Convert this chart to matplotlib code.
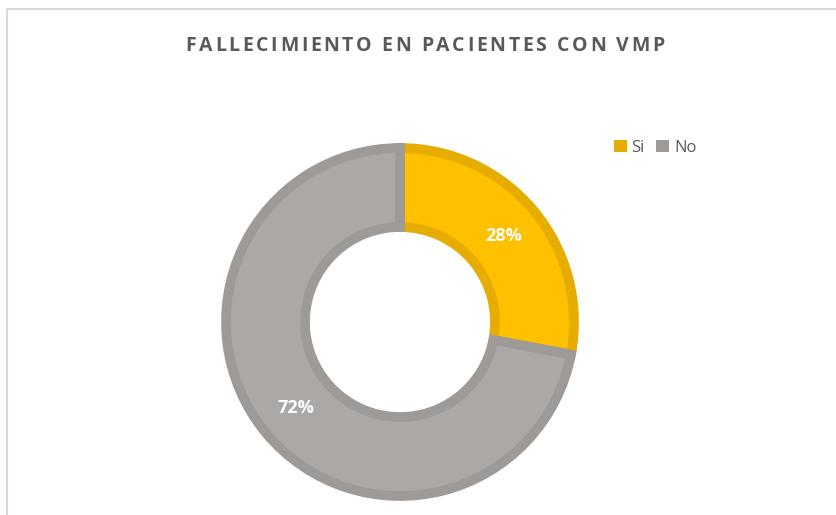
import matplotlib.pyplot as plt
from matplotlib.patches import Patch
import numpy as np

# chart data
labels = ["Si", "No"]
values = [28, 72]
title = "FALLECIMIENTO EN PACIENTES CON VMP"

fill_colors = ["#FFC000", "#ABA8A6"]
edge_colors = ["#E6AD00", "#9D9A98"]

W, H = 837, 515
fig = plt.figure(figsize=(W / 100, H / 100), dpi=100)
ax = fig.add_axes([0, 0, 1, 1])
ax.axis("off")

# chart frame (light gray border of the embedded chart)
ax.plot([7.5, W + 5], [H - 8.5, H - 8.5], color="#D9D9D9", lw=1.5, solid_capstyle="butt")
ax.plot([7.5, 7.5], [-5, H - 8.5], color="#D9D9D9", lw=1.5, solid_capstyle="butt")

# cut-off text from the line above
fig.text(207 / W, 1 + 2.5 / H, "p", fontsize=11, family="Lato", color="black",
         ha="center", va="baseline")
fig.text(712 / W, 1 + 3.5 / H, "g", fontsize=11, family="Lato", color="black",
         ha="center", va="baseline")

cx, cy = 400, H - 322
r_out = 174
ring = 79
wedges, _ = ax.pie(values, colors=fill_colors, startangle=90, counterclock=False,
                   center=(cx, cy), radius=r_out,
                   wedgeprops=dict(width=ring, linewidth=7, joinstyle="miter"))
for w, ec in zip(wedges, edge_colors):
    w.set_edgecolor(ec)

total = sum(values)
start = 90.0
r_lab = r_out - ring / 2
for v in values:
    mid = np.deg2rad(start - 360 * v / total / 2)
    ax.text(cx + r_lab * np.cos(mid), cy + r_lab * np.sin(mid), f"{v}%",
            ha="center", va="center", color="white", fontsize=13,
            fontweight="bold", family="Open Sans")
    start -= 360 * v / total

ax.set_xlim(0, W)
ax.set_ylim(0, H)
ax.set_aspect("equal")

# title with extra letter spacing (axes units are pixels)
tkw = dict(fontsize=14, fontweight="bold", family="Open Sans", color="#595959",
           va="center", ha="left")
r = fig.canvas.get_renderer()


def text_w(s):
    t = ax.text(0, 0, s, **tkw)
    w = t.get_window_extent(r).width
    t.remove()
    return w


space_w = text_w("a a") - text_w("aa")
widths = [space_w if ch == " " else text_w(ch) for ch in title]
track = 2.6
total_w = sum(widths) + track * (len(title) - 1)
x = 425 - total_w / 2
for ch, w in zip(title, widths):
    ax.text(x, H - 46, ch, **tkw)
    x += w + track

handles = [Patch(facecolor=c, edgecolor="none") for c in edge_colors]
fig.legend(handles, labels, loc="center left", bbox_to_anchor=(599 / W, 1 - 148 / H),
           ncol=2, frameon=False, handlelength=0.75, handleheight=0.75,
           handletextpad=0.3, columnspacing=0.7,
           prop=dict(family="Open Sans", size=12), labelcolor="#595959")

fig.savefig("out.png", dpi=100)
